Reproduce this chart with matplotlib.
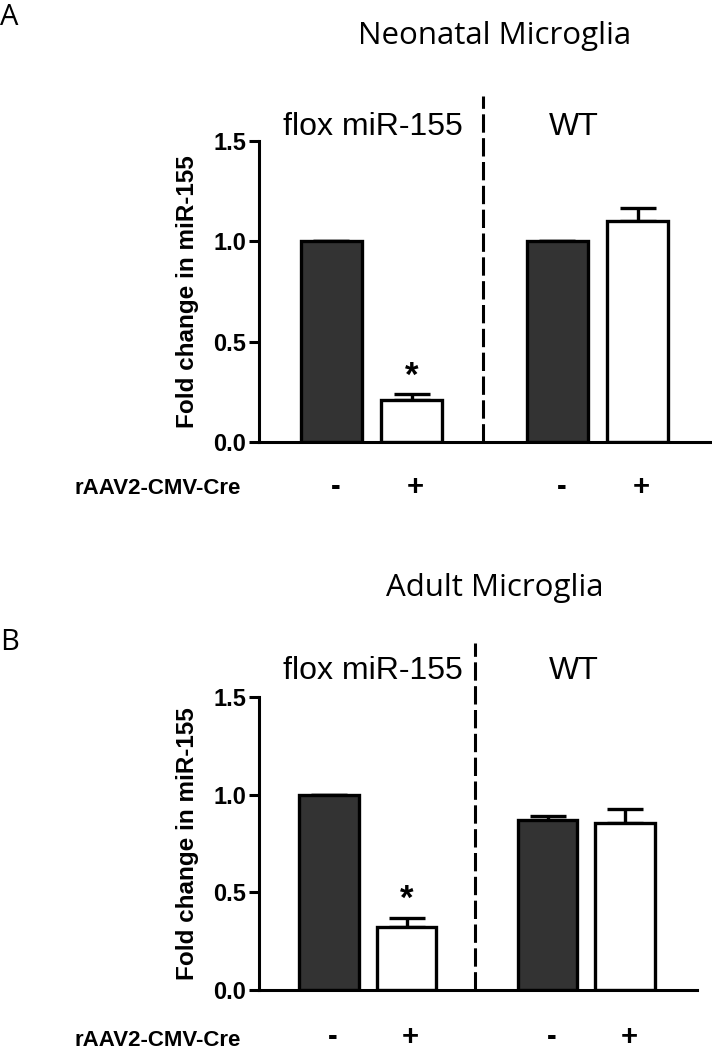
import numpy as np
import matplotlib
matplotlib.use('Agg')
import matplotlib.pyplot as plt

# данные
treatment = ['-', '+', '-', '+']
groups = ['flox miR-155', 'WT']
bar_pos = [0.0, 1.0, 2.82, 3.82]
bar_colors = ['#333333', 'white', '#333333', 'white']

neonatal_mean = [1.0, 0.21, 1.0, 1.10]
neonatal_err = [0.0, 0.03, 0.003, 0.065]

adult_mean = [1.0, 0.32, 0.87, 0.857]
adult_err = [0.0, 0.05, 0.02, 0.07]

W, H = 712, 1050
fig = plt.figure(figsize=(W / 100, H / 100), dpi=100)

bold = dict(family='Liberation Sans', weight='bold')
arial = dict(family='Liberation Sans')
myriad = dict(family='Open Sans')


def fx(px):
    return px / W


def fy(py):
    return 1 - py / H


def panel(rect, means, errs, title, letter, title_y, letter_y, group_y, dash_top, cre_y, sign_y):
    left, top, right, bottom = rect
    ax = fig.add_axes([fx(left), fy(bottom), fx(right - left), (bottom - top) / H])
    ax.bar(bar_pos, means, width=0.77, color=bar_colors, edgecolor='black', linewidth=2.4, zorder=2)
    ax.errorbar(bar_pos, means, yerr=[np.zeros(len(errs)), errs], fmt='none', ecolor='black',
                elinewidth=2.4, capsize=13, capthick=2.4, zorder=1)
    ax.set_xlim(-0.905, 4.75)
    ax.set_ylim(0, 1.5)
    ax.set_yticks([0.0, 0.5, 1.0, 1.5])
    ax.set_yticklabels(['0.0', '0.5', '1.0', '1.5'], fontsize=17, **bold)
    ax.set_xticks([])
    ax.tick_params(axis='y', length=7, width=2.2, pad=2)
    for s in ['top', 'right']:
        ax.spines[s].set_visible(False)
    for s in ['left', 'bottom']:
        ax.spines[s].set_linewidth(2.2)

    # разделительная пунктирная линия
    ax.plot([1.89, 1.89], [0, dash_top], color='black', linewidth=2.2, dashes=(6, 1.8),
            clip_on=False, solid_capstyle='butt')

    # звездочка над вторым столбцом
    ax.annotate('*', (bar_pos[1], means[1] + errs[1]), xytext=(0, 1), textcoords='offset points',
                ha='center', va='bottom', fontsize=25, **bold)

    # подписи - / +
    trans = ax.get_xaxis_transform()
    for x, t in zip(bar_pos, treatment):
        ax.text(x + 0.05, -(sign_y - bottom) / (bottom - top), t, transform=trans,
                ha='center', va='center', fontsize=21, **bold)

    fig.text(fx(75), fy(cre_y), 'rAAV2-CMV-Cre', ha='left', va='center', fontsize=16, **bold)
    fig.text(fx(188), fy((top + bottom) / 2), 'Fold change in miR-155', rotation=90,
             ha='center', va='center', fontsize=17.5, **bold)

    fig.text(fx(495), fy(title_y), title, ha='center', va='baseline', fontsize=22.5, **myriad)
    fig.text(fx(0), fy(letter_y), letter, ha='left', va='baseline', fontsize=21, **myriad)
    fig.text(fx(373), fy(group_y), groups[0], ha='center', va='baseline', fontsize=23, **arial)
    fig.text(fx(574), fy(group_y), groups[1], ha='center', va='baseline', fontsize=23, **arial)
    return ax


panel((259, 141, 712, 442), neonatal_mean, neonatal_err, 'Neonatal Microglia', 'A',
      title_y=44, letter_y=25, group_y=135, dash_top=1.725, cre_y=489, sign_y=487)
panel((259, 697, 697, 990), adult_mean, adult_err, 'Adult Microglia', 'B',
      title_y=596, letter_y=650, group_y=679, dash_top=1.777, cre_y=1040, sign_y=1037)

fig.savefig('out.png', dpi=100)
